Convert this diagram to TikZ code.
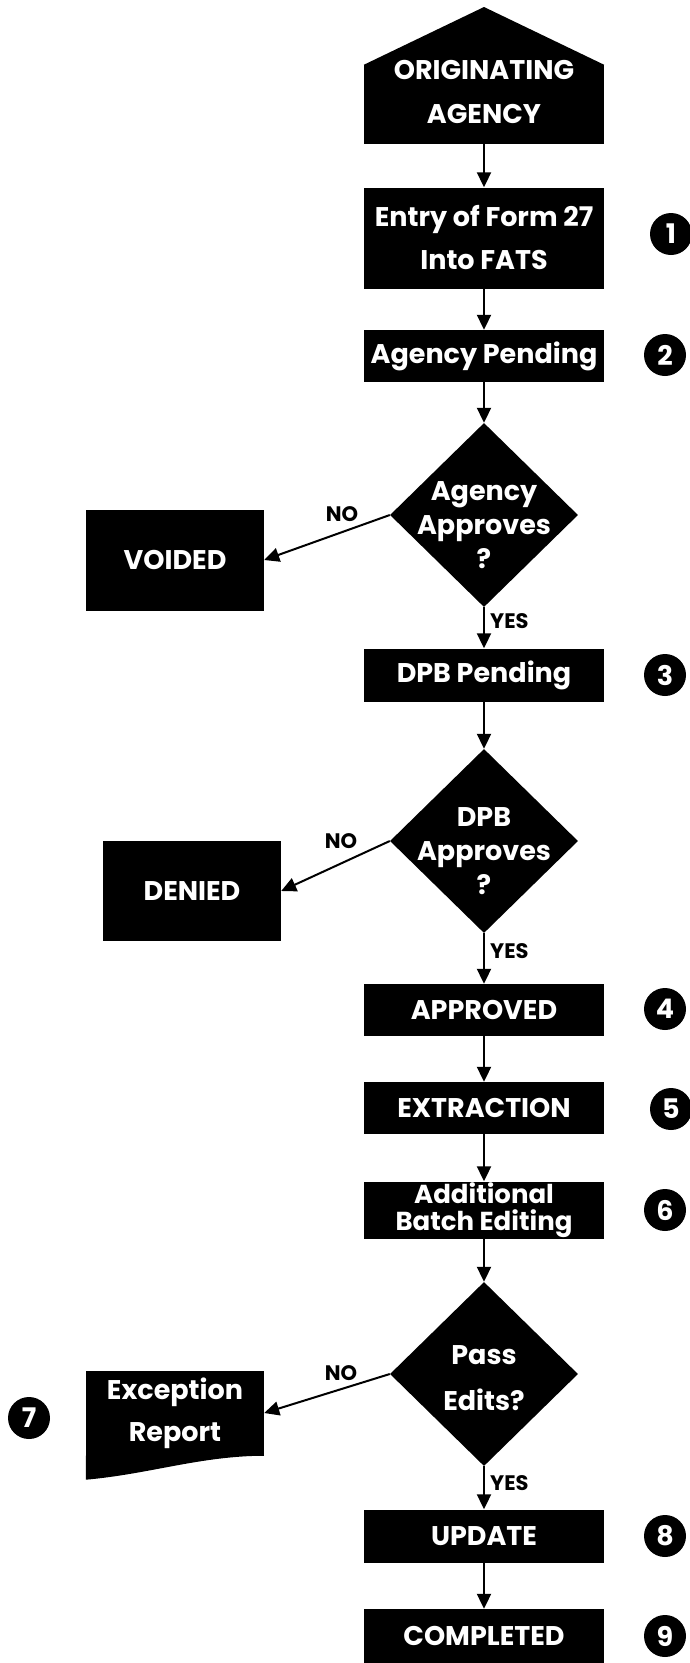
\documentclass[tikz,border=0pt]{standalone}
\usepackage{fontspec}
\setmainfont{Poppins}
\usetikzlibrary{arrows.meta,positioning,shapes.geometric}
\tikzset{
  box/.style={fill=black, text=white, minimum width=240pt, inner sep=0pt, align=center, font=\bfseries\fontsize{27}{43}\selectfont},
  side/.style={fill=black, text=white, minimum width=178pt, inner sep=0pt, align=center, font=\bfseries\fontsize{27}{42}\selectfont},
  dec/.style={diamond, fill=black, minimum width=188pt, minimum height=184pt, inner sep=0pt},
  dtxt/.style={text=white, align=center, inner sep=0pt, font=\bfseries\fontsize{27}{34}\selectfont},
  num/.style={circle, fill=black, text=white, minimum size=42pt, inner sep=0pt, font=\bfseries\fontsize{27}{27}\selectfont},
  flow/.style={line width=2pt, -{Triangle[length=15pt,width=14pt]}},
  ans/.style={inner sep=0pt, font=\bfseries\fontsize{21}{21}\selectfont},
}
\begin{document}
\begin{tikzpicture}[x=1pt,y=-1pt]
\useasboundingbox (0,0) rectangle (689,1663);

% main column
\node[box, minimum height=79pt] (orig) at (484,104.5) {};
\fill (orig.north west) -- (484,7) -- (orig.north east) -- cycle;
\node[dtxt, font=\bfseries\fontsize{27}{44}\selectfont] (origtxt) at (484,92) {ORIGINATING\\AGENCY};
\node[box, minimum height=101pt] (entry) at (484,238) {Entry of Form 27\\Into FATS};
\node[box, minimum height=52pt] (apend) at (484,356) {Agency Pending};
\node[dec, label={[dtxt, yshift=-10pt]center:Agency\\Approves\\?}] (q1) at (484,515) {};
\node[box, minimum height=53pt] (dpend) at (484,675) {DPB Pending};
\node[dec, label={[dtxt, yshift=-10pt]center:DPB\\Approves\\?}] (q2) at (484,841) {};
\node[box, minimum height=52pt] (appr) at (484,1010) {APPROVED};
\node[box, minimum height=52pt] (extr) at (484,1108) {EXTRACTION};
\node[box, minimum height=57pt, font=\bfseries\fontsize{26}{27}\selectfont] (batch) at (484,1210) {Additional\\Batch Editing};
\node[dec, label={[dtxt, yshift=-4pt, font=\bfseries\fontsize{27}{46}\selectfont]center:Pass\\Edits?}] (q3) at (484,1374) {};
\node[box, minimum height=53pt] (upd) at (484,1536) {UPDATE};
\node[box, minimum height=54pt] (done) at (484,1636) {COMPLETED};

% side outcomes
\node[side, minimum height=101pt] (void) at (175,560) {VOIDED};
\node[side, minimum height=100pt] (deny) at (192,891) {DENIED};
\node[side, minimum height=85pt] (exc) at (175,1413) {Exception\\Report};
\fill (exc.south west) -- ++(0,24) .. controls (150,1474) and (200,1456) .. (exc.south east) -- cycle;

% connectors
\draw[flow] (orig) -- (entry);
\draw[flow] (entry) -- (apend);
\draw[flow] (apend) -- (q1);
\draw[flow] (q1) -- (dpend);
\draw[flow] (dpend) -- (q2);
\draw[flow] (q2) -- (appr);
\draw[flow] (appr) -- (extr);
\draw[flow] (extr) -- (batch);
\draw[flow] (batch) -- (q3);
\draw[flow] (q3) -- (upd);
\draw[flow] (upd) -- (done);
\draw[flow] (q1.west) -- (void.east);
\draw[flow] (q2.west) -- (deny.east);
\draw[flow] (q3.west) -- (exc.east);

% answers
\node[ans] (no1) at (342,514) {NO};
\node[ans] (no2) at (341,841) {NO};
\node[ans] (no3) at (341,1373) {NO};
\node[ans, anchor=west] (yes1) at (490,621) {YES};
\node[ans, anchor=west] (yes2) at (490,951) {YES};
\node[ans, anchor=west] (yes3) at (490,1483) {YES};

% step numbers
\node[num] (n1) at (671,234) {1};
\node[num] (n2) at (665,355) {2};
\node[num] (n3) at (665,675) {3};
\node[num] (n4) at (665,1009) {4};
\node[num] (n5) at (671,1109) {5};
\node[num] (n6) at (665,1210) {6};
\node[num] (n7) at (29,1418) {7};
\node[num] (n8) at (665,1536) {8};
\node[num] (n9) at (665,1636) {9};
\end{tikzpicture}
\end{document}
